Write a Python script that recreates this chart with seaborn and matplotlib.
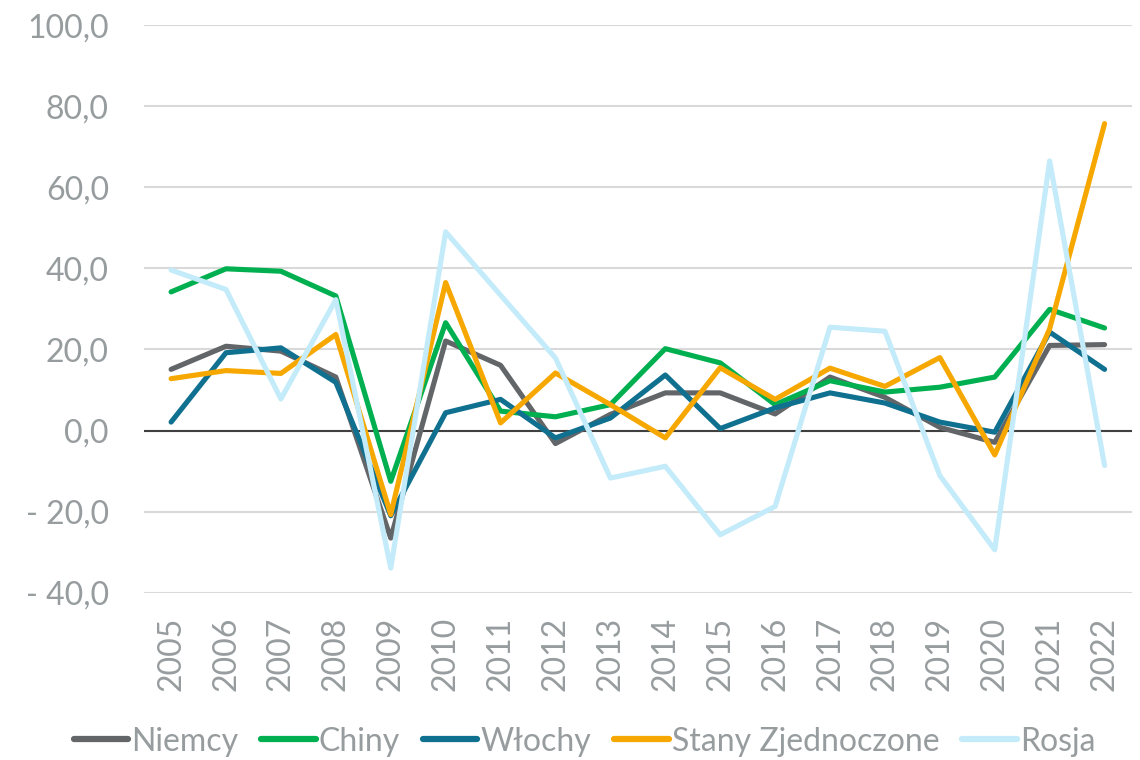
import matplotlib.pyplot as plt
import seaborn as sns
import pandas as pd

years = list(range(2005, 2023))

niemcy = [15.1, 20.8, 19.6, 13.2, -26.5, 22.1, 16.1, -3.2, 4.0, 9.3, 9.3, 4.1, 13.2, 8.2, 0.8, -2.9, 21.0, 21.2]
chiny = [34.2, 39.9, 39.3, 33.2, -12.5, 26.6, 4.8, 3.4, 6.4, 20.2, 16.7, 6.4, 12.3, 9.5, 10.7, 13.2, 29.9, 25.3]
wlochy = [2.1, 19.2, 20.4, 11.9, -21.0, 4.4, 7.7, -1.8, 3.1, 13.7, 0.5, 5.6, 9.3, 6.8, 2.1, -0.4, 24.3, 15.1]
stany = [12.8, 14.8, 14.1, 23.7, -20.7, 36.5, 1.9, 14.2, 6.4, -1.8, 15.5, 7.7, 15.4, 10.9, 18.0, -6.0, 25.1, 75.7]
rosja = [39.6, 34.8, 7.8, 32.3, -33.9, 49.0, 33.4, 17.9, -11.7, -8.8, -25.7, -18.7, 25.5, 24.5, -11.1, -29.4, 66.5, -8.6]

series = {
    "Niemcy": niemcy,
    "Chiny": chiny,
    "Włochy": wlochy,
    "Stany Zjednoczone": stany,
    "Rosja": rosja,
}
colors = ["#636669", "#00B050", "#10708F", "#F7A800", "#C3EBF9"]

# dane w formacie długim dla seaborn
rows = []
for name, vals in series.items():
    for y, v in zip(years, vals):
        rows.append({"rok": y, "wartosc": v, "kraj": name})
df = pd.DataFrame(rows)

sns.set_style("white")
plt.rcParams['font.family'] = ['Lato', 'DejaVu Sans']

fig = plt.figure(figsize=(11.4, 7.6), dpi=100)
ax = fig.add_axes([0.126, 0.22, 0.867, 0.747])

for y in range(-40, 101, 20):
    ax.axhline(y, color="#D9D9D9", lw=1.5, zorder=0)
ax.axhline(0, color="#404040", lw=1.5, zorder=1)

sns.lineplot(data=df, x="rok", y="wartosc", hue="kraj", palette=colors,
             hue_order=list(series.keys()), linewidth=3.7, ax=ax, sort=False)

ax.set_xlim(2004.5, 2022.5)
ax.set_ylim(-40, 100)
ax.set_xticks(years)
ax.set_xticklabels([str(y) for y in years], rotation=90)
ax.set_yticks(range(-40, 101, 20))
ax.set_yticklabels([f"{v:.1f}".replace(".", ",").replace("-", "- ") for v in range(-40, 101, 20)])
ax.tick_params(axis="both", length=0, labelsize=23, colors="#979C9E")
ax.tick_params(axis="y", pad=25)
ax.tick_params(axis="x", pad=17)
ax.set_xlabel("")
ax.set_ylabel("")
for s in ax.spines.values():
    s.set_visible(False)

leg = ax.legend(loc="center", bbox_to_anchor=(0.446, -0.262), ncol=5, frameon=False,
                fontsize=23, handlelength=1.7, handletextpad=0.1, columnspacing=0.72)
for t in leg.get_texts():
    t.set_color("#979C9E")
for h in leg.get_lines():
    h.set_linewidth(4.5)
    h.set_solid_capstyle("round")

fig.savefig("out.png", dpi=100)
